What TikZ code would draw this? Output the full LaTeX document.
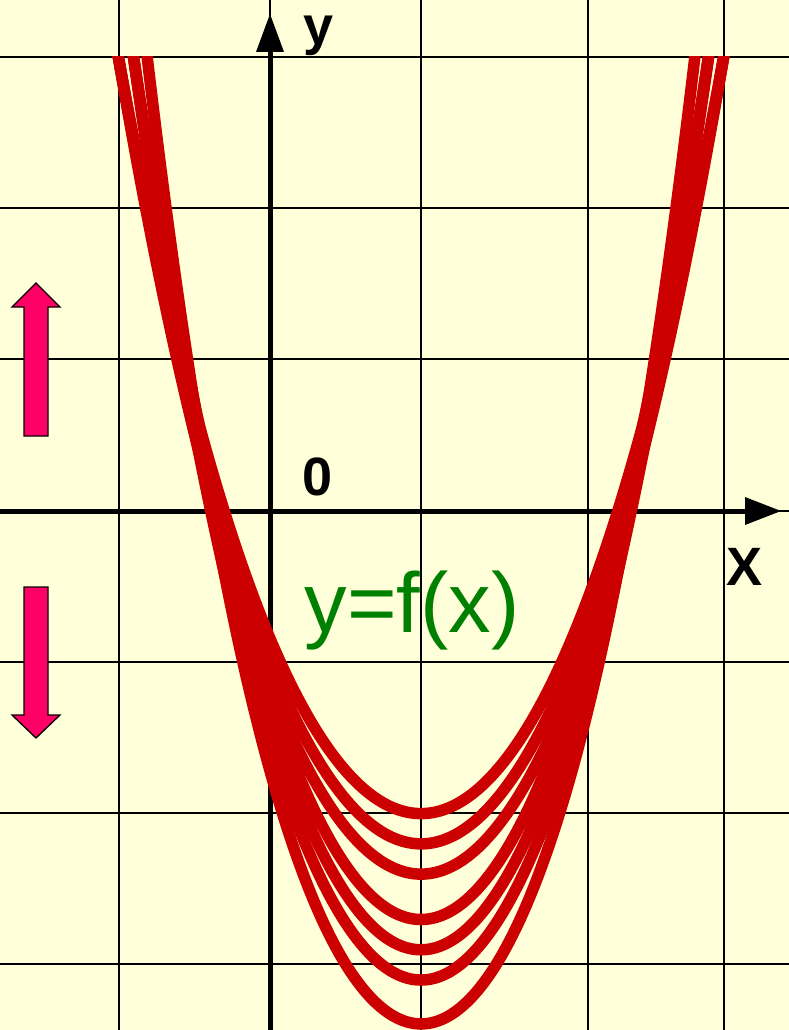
\documentclass[tikz,border=0pt]{standalone}
\usepackage{fontspec}
\setmainfont{Liberation Sans}
\definecolor{bgyellow}{HTML}{FFFFDA}
\definecolor{curvered}{HTML}{CC0000}
\definecolor{shiftpink}{HTML}{FF0066}
\definecolor{labelgreen}{HTML}{008000}
\begin{document}
\begin{tikzpicture}[x=1pt,y=-1pt,
  gridline/.style={line width=2pt,black},
  axisline/.style={line width=5pt,black},
  curve/.style={line width=11.5pt,curvered,line join=round},
  shiftarrow/.style={fill=shiftpink,draw=black,line width=1.3pt,line join=miter},
  axislabel/.style={font=\fontsize{54}{60}\selectfont\bfseries,inner sep=0pt,anchor=base}]
\useasboundingbox (0,0) rectangle (789,1030);
\fill[bgyellow] (0,0) rectangle (789,1030);
% grid
\foreach \gx in {119,270,421,587.5,724} \draw[gridline] (\gx,0) -- (\gx,1030);
\foreach \gy in {57,208,359,511,662,813,964} \draw[gridline] (0,\gy) -- (789,\gy);
% axes
\coordinate (ybot) at (270,1030);
\coordinate (ytop) at (270,50);
\coordinate (ytip) at (270,14);
\coordinate (xleft) at (0,511);
\coordinate (xright) at (747,511);
\coordinate (xtip) at (781,511);
\draw[axisline] (ybot) -- (ytop);
\fill[black] (ytip) -- ([xshift=-14pt,yshift=-2pt]ytop) -- ([xshift=14pt,yshift=-2pt]ytop) -- cycle;
\draw[axisline] (xleft) -- (xright);
\fill[black] (xtip) -- ([xshift=-2pt,yshift=-14pt]xright) -- ([xshift=-2pt,yshift=14pt]xright) -- cycle;
% curves  y = c + A (x-1)^2 + B (x-1)^4
\begin{scope}
\clip (0,57) rectangle (789,1030);
\foreach \cv/\av/\bv/\wv in {-2/1.133/0.029/2.0, -2.2/1.18/0.03/2.0, -2.4/1.23/0.03/2.0,
   -2.7/1.4346/0.04/1.9, -2.9/1.49/0.04/1.9, -3.1/1.509/0.05/1.9,
   -3.39/1.561/0.119/1.81}{
  \pgfmathsetmacro\wend{\wv+0.08}
  \draw[curve] plot[domain=-\wend:\wend,samples=121,smooth]
    ({421+151.3*\x},{511-151.3*(\cv+\av*\x*\x+\bv*\x*\x*\x*\x)});
}
\end{scope}
% labels
\node[axislabel] (ylab) at (319,45) {y};
\node[axislabel] (xlab) at (744,585.7) {X};
\node[axislabel] (zero) at (318,495) {0};
\node[font=\fontsize{85}{95}\selectfont,text=labelgreen,inner sep=0pt,anchor=base] (flab) at (412,632) {y=f(x)};
% shift arrows
\draw[shiftarrow] (24,436) -- (24,307) -- (12,307) -- (36,283) -- (60,307) -- (48,307) -- (48,436) -- cycle;
\draw[shiftarrow] (24,587) -- (24,715) -- (12,715) -- (36,738) -- (60,715) -- (48,715) -- (48,587) -- cycle;
\end{tikzpicture}
\end{document}
